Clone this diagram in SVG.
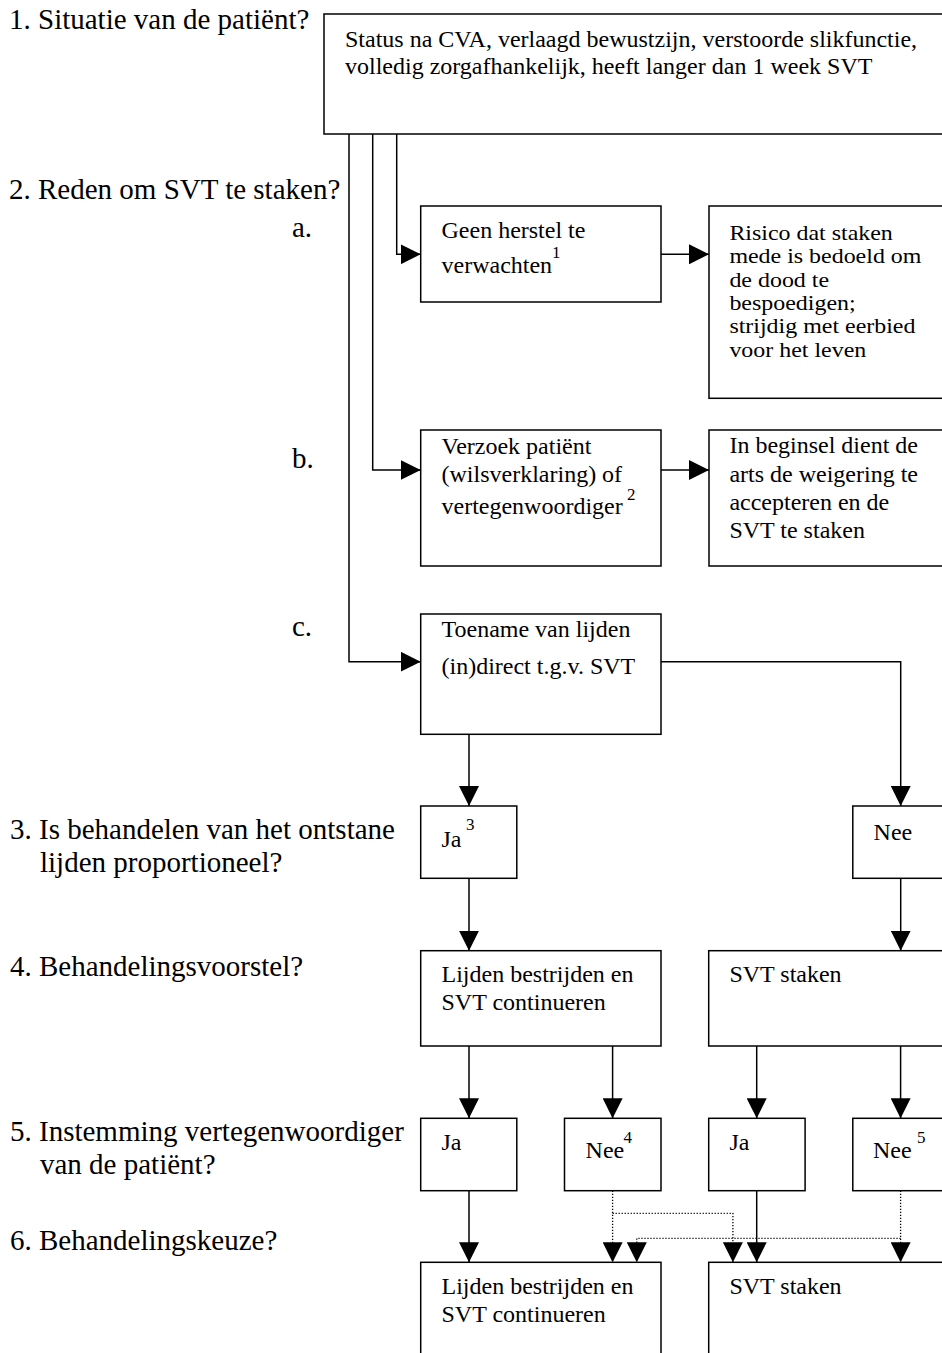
<svg xmlns="http://www.w3.org/2000/svg" width="942" height="1353" viewBox="0 0 942 1353">
<style>
  .box { fill: #ffffff; stroke: #000000; stroke-width: 1.5; }
  .t { font-family: "Liberation Serif", "Times New Roman", serif; font-size: 24px; fill: #000000; }
  .ts { font-family: "Liberation Serif", "Times New Roman", serif; font-size: 21px; fill: #000000; }
  .sup { font-size: 17px; }
  .lbl { font-family: "Liberation Serif", "Times New Roman", serif; font-size: 29px; fill: #000000; }
  .con { fill: none; stroke: #000000; stroke-width: 1.5; marker-end: url(#arr); }
  .dot { fill: none; stroke: #000000; stroke-width: 1.3; stroke-dasharray: 1.2 1.8; }
  .dota { marker-end: url(#arr); }
</style>
<defs>
  <marker id="arr" markerUnits="userSpaceOnUse" markerWidth="20" markerHeight="20" refX="20" refY="10" orient="auto">
    <path d="M0,0 L20,10 L0,20 Z" fill="#000000"/>
  </marker>
</defs>
<rect x="0" y="0" width="942" height="1353" fill="#ffffff"/>

<g id="labels">
  <text class="lbl" x="9" y="29">1. Situatie van de patiënt?</text>
  <text class="lbl" x="9" y="199">2. Reden om SVT te staken?</text>
  <text class="lbl" x="292" y="237">a.</text>
  <text class="lbl" x="292" y="468">b.</text>
  <text class="lbl" x="292" y="636">c.</text>
  <text class="lbl" x="10" y="839">3. Is behandelen van het ontstane</text>
  <text class="lbl" x="40" y="872">lijden proportioneel?</text>
  <text class="lbl" x="10" y="976">4. Behandelingsvoorstel?</text>
  <text class="lbl" x="10" y="1141">5. Instemming vertegenwoordiger</text>
  <text class="lbl" x="40" y="1174">van de patiënt?</text>
  <text class="lbl" x="10" y="1250">6. Behandelingskeuze?</text>
</g>

<g id="connectors">
  <path class="con" d="M349,134 V661.7 H420.7"/>
  <path class="con" d="M372.7,134 V470 H420.7"/>
  <path class="con" d="M396.7,134 V254.3 H420.7"/>
  <path class="con" d="M661,254.3 H709"/>
  <path class="con" d="M661,470 H709"/>
  <path class="con" d="M469,734.3 V806"/>
  <path class="con" d="M661,661.7 H900.7 V806"/>
  <path class="con" d="M469,878.3 V950.7"/>
  <path class="con" d="M900.7,878.3 V950.7"/>
  <path class="con" d="M469,1046 V1118.3"/>
  <path class="con" d="M612.6,1046 V1118.3"/>
  <path class="con" d="M756.7,1046 V1118.3"/>
  <path class="con" d="M900.6,1046 V1118.3"/>
  <path class="con" d="M469,1190.7 V1262.3"/>
  <path class="con" d="M756.7,1190.7 V1262.3"/>
  <path class="dot dota" d="M612.6,1190.7 V1262.3"/>
  <path class="dot dota" d="M612.6,1213.3 H732.9 V1262.3"/>
  <path class="dot dota" d="M900.6,1190.7 V1262.3"/>
  <path class="dot dota" d="M900.6,1238.3 H636.8 V1262.3"/>
</g>

<g id="n-situatie">
  <rect class="box" x="324" y="14" width="622" height="120"/>
  <text class="t" x="345" y="47">Status na CVA, verlaagd bewustzijn, verstoorde slikfunctie,</text>
  <text class="t" x="345" y="74">volledig zorgafhankelijk, heeft langer dan 1 week SVT</text>
</g>

<g id="n-geen-herstel">
  <rect class="box" x="420.7" y="206" width="240.3" height="96"/>
  <text class="t" x="441.5" y="238">Geen herstel te</text>
  <text class="t" x="441.5" y="273">verwachten<tspan class="sup" x="552" y="258">1</tspan></text>
</g>

<g id="n-risico">
  <rect class="box" x="709" y="206" width="237" height="192.3"/>
  <text class="ts" transform="translate(729.4,240) scale(1.14,1)">Risico dat staken</text>
  <text class="ts" transform="translate(729.4,263.3) scale(1.14,1)">mede is bedoeld om</text>
  <text class="ts" transform="translate(729.4,286.6) scale(1.14,1)">de dood te</text>
  <text class="ts" transform="translate(729.4,310) scale(1.14,1)">bespoedigen;</text>
  <text class="ts" transform="translate(729.4,333.3) scale(1.14,1)">strijdig met eerbied</text>
  <text class="ts" transform="translate(729.4,356.6) scale(1.14,1)">voor het leven</text>
</g>

<g id="n-verzoek">
  <rect class="box" x="420.7" y="430" width="240.3" height="136"/>
  <text class="t" x="441.5" y="454">Verzoek patiënt</text>
  <text class="t" x="441.5" y="482">(wilsverklaring) of</text>
  <text class="t" x="441.5" y="514">vertegenwoordiger<tspan class="sup" x="627" y="500">2</tspan></text>
</g>

<g id="n-beginsel">
  <rect class="box" x="709" y="430" width="237" height="136"/>
  <text class="t" x="729.4" y="453">In beginsel dient de</text>
  <text class="t" x="729.4" y="482">arts de weigering te</text>
  <text class="t" x="729.4" y="510">accepteren en de</text>
  <text class="t" x="729.4" y="538">SVT te staken</text>
</g>

<g id="n-toename">
  <rect class="box" x="420.7" y="614" width="240.3" height="120.3"/>
  <text class="t" x="441.5" y="637">Toename van lijden</text>
  <text class="t" x="441.5" y="674">(in)direct t.g.v. SVT</text>
</g>

<g id="n-ja3">
  <rect class="box" x="420.7" y="806" width="96.1" height="72.3"/>
  <text class="t" x="441.5" y="847">Ja<tspan class="sup" x="466" y="830">3</tspan></text>
</g>

<g id="n-nee3">
  <rect class="box" x="852.8" y="806" width="93" height="72.3"/>
  <text class="t" x="873.6" y="840">Nee</text>
</g>

<g id="n-lijden4">
  <rect class="box" x="420.7" y="950.7" width="240.3" height="95.3"/>
  <text class="t" x="441.5" y="982">Lijden bestrijden en</text>
  <text class="t" x="441.5" y="1010">SVT continueren</text>
</g>

<g id="n-svt4">
  <rect class="box" x="708.7" y="950.7" width="237" height="95.3"/>
  <text class="t" x="729.4" y="982">SVT staken</text>
</g>

<g id="n-ja5a">
  <rect class="box" x="420.7" y="1118.3" width="96.1" height="72.4"/>
  <text class="t" x="441.5" y="1150">Ja</text>
</g>

<g id="n-nee5a">
  <rect class="box" x="564.5" y="1118.3" width="96.5" height="72.4"/>
  <text class="t" x="585.6" y="1158">Nee<tspan class="sup" x="623.5" y="1143">4</tspan></text>
</g>

<g id="n-ja5b">
  <rect class="box" x="708.7" y="1118.3" width="96.4" height="72.4"/>
  <text class="t" x="729.4" y="1150">Ja</text>
</g>

<g id="n-nee5b">
  <rect class="box" x="852.8" y="1118.3" width="93" height="72.4"/>
  <text class="t" x="873" y="1158">Nee<tspan class="sup" x="917" y="1143">5</tspan></text>
</g>

<g id="n-lijden6">
  <rect class="box" x="420.7" y="1262.3" width="240.3" height="100"/>
  <text class="t" x="441.5" y="1294">Lijden bestrijden en</text>
  <text class="t" x="441.5" y="1322">SVT continueren</text>
</g>

<g id="n-svt6">
  <rect class="box" x="708.7" y="1262.3" width="237" height="100"/>
  <text class="t" x="729.4" y="1294">SVT staken</text>
</g>
</svg>
